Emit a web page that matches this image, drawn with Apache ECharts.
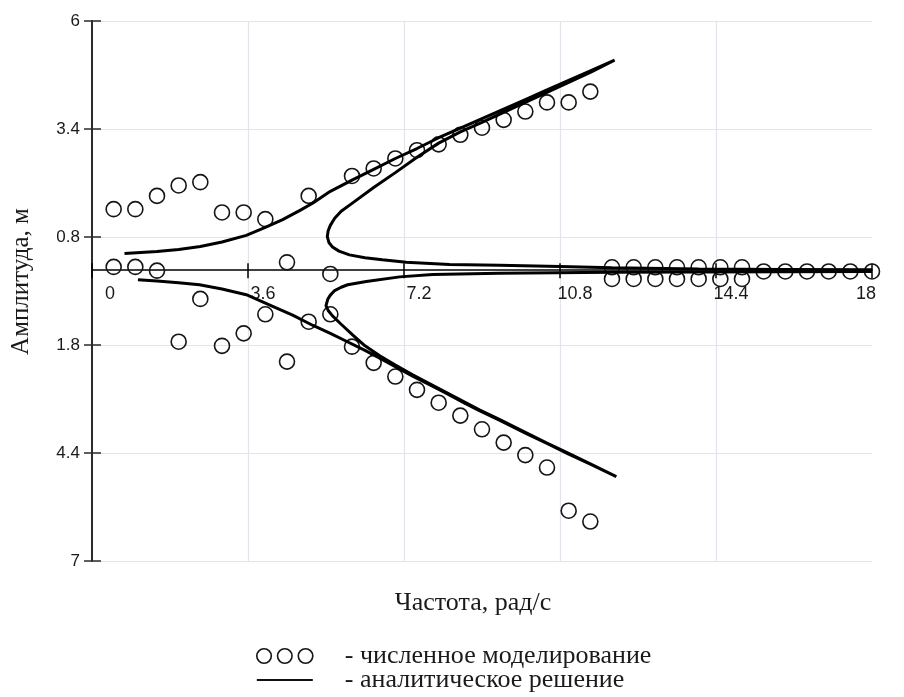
<!DOCTYPE html>
<html><head><meta charset="utf-8">
<script src="https://cdn.jsdelivr.net/npm/echarts@6/dist/echarts.min.js"></script>
<style>html,body{margin:0;padding:0;background:#fff}#c{width:904px;height:697px}</style>
</head><body><div id="c"></div>
<script>
// ---- tick labels ----
const xTickLabels = ['0', '3.6', '7.2', '10.8', '14.4', '18'];
const yTickLabels = ['7', '4.4', '1.8', '0.8', '3.4', '6'];   // bottom -> top (lower half shown as magnitude)

// ---- numerical simulation (circles): two amplitudes per frequency ----
const simFreq = [0.5, 1, 1.5, 2, 2.5, 3, 3.5, 4, 4.5, 5, 5.5, 6, 6.5, 7, 7.5, 8, 8.5, 9, 9.5, 10, 10.5, 11, 11.5,
                 12, 12.5, 13, 13.5, 14, 14.5, 15, 15.5, 16, 16.5, 17, 17.5, 18];
const simAmpA = [1.47, 1.47, 1.79, 2.04, 2.12, 1.39, 1.39, 1.23, 0.19, 1.79, -0.09, 2.27, 2.45, 2.69, 2.89, 3.03, 3.26, 3.43, 3.62, 3.82, 4.04, 4.04, 4.30,
                 0.07, 0.07, 0.07, 0.07, 0.07, 0.07, 0.07, -0.03, -0.03, -0.03, -0.03, -0.03, -0.03];
const simAmpB = [0.08, 0.08, -0.01, -1.72, -0.69, -1.82, -1.52, -1.06, -2.20, -1.24, -1.06, -1.84, -2.23, -2.56, -2.88, -3.19, -3.50, -3.83, -4.15, -4.45, -4.75, -5.79, -6.05,
                 -0.21, -0.21, -0.21, -0.21, -0.21, -0.21, -0.21, null, null, null, null, null, null];

// ---- analytical solution: upper response curve ----
const anaUpperFreq = [0.75, 1.5, 2.0, 2.5, 3.0, 3.56, 4.0, 4.4, 4.8, 5.1, 5.5, 6.0, 6.5, 7.0, 7.5, 8.0, 8.5, 9.0, 9.5, 10.0, 10.5, 11.0, 11.5, 12.06,
                      11.5, 11.0, 10.5, 10.0, 9.5, 9.0, 8.5, 8.0, 7.5, 7.0, 6.5, 6.0, 5.75, 5.6, 5.5, 5.45, 5.43, 5.47, 5.55, 5.7, 5.94, 6.3, 6.7, 7.25, 8.25, 9.4, 10.8, 12, 14, 16, 18];
const anaUpperAmp  = [0.40, 0.45, 0.50, 0.57, 0.68, 0.84, 1.03, 1.22, 1.44, 1.62, 1.90, 2.17, 2.43, 2.69, 2.93, 3.19, 3.42, 3.65, 3.88, 4.11, 4.34, 4.57, 4.80, 5.06,
                      4.76, 4.52, 4.28, 4.04, 3.80, 3.56, 3.33, 3.06, 2.72, 2.35, 1.99, 1.61, 1.42, 1.25, 1.08, 0.95, 0.81, 0.66, 0.56, 0.46, 0.37, 0.30, 0.25, 0.19, 0.14, 0.12, 0.09, 0.06, 0.03, 0.02, 0.01];

// ---- analytical solution: lower response curve ----
const anaLowerFreq = [1.06, 1.5, 2.0, 2.48, 3.0, 3.56, 4.17, 4.63, 5.1, 5.5, 5.87, 6.3, 6.64, 7.0, 7.4, 7.8, 8.17, 8.6, 8.94, 9.4, 10.0, 10.56, 11.0, 11.5, 12.1,
                      11.5, 11.0, 10.5, 10.0, 9.4, 8.94, 8.17, 7.4, 7.0, 6.64, 6.3, 6.02, 5.75, 5.55, 5.45, 5.40, 5.44, 5.5, 5.6, 5.75, 5.9, 6.33, 7.1, 7.86, 9.4, 12, 14, 18];
const anaLowerAmp  = [-0.23, -0.26, -0.30, -0.35, -0.45, -0.59, -0.87, -1.08, -1.33, -1.52, -1.71, -1.93, -2.12, -2.32, -2.55, -2.76, -2.96, -3.20, -3.38, -3.61, -3.92, -4.20, -4.43, -4.67, -4.97,
                      -4.66, -4.41, -4.16, -3.90, -3.59, -3.36, -2.94, -2.52, -2.28, -2.06, -1.82, -1.56, -1.30, -1.10, -0.97, -0.85, -0.70, -0.60, -0.49, -0.41, -0.35, -0.27, -0.16, -0.10, -0.07, -0.05, -0.04, -0.03];

const simName = 'численное моделирование';
const anaName = 'аналитическое решение';

const simPoints = [];
simFreq.forEach((f, i) => {
  if (simAmpA[i] != null) simPoints.push([f, simAmpA[i]]);
  if (simAmpB[i] != null) simPoints.push([f, simAmpB[i]]);
});
const upperLine = anaUpperFreq.map((f, i) => [f, anaUpperAmp[i]]);
const lowerLine = anaLowerFreq.map((f, i) => [f, anaLowerAmp[i]]);

const chart = echarts.init(document.getElementById('c'), null, { renderer: 'canvas' });
const serif = '"Liberation Serif", "Times New Roman", serif';
const sans = '"Liberation Sans", Arial, sans-serif';
const textColor = '#1a1a1a';
const gridColor = '#e3e3eb';

// grid geometry -> offset that moves the bottom axis up onto the zero line
const gridTop = 21, gridHeight = 540, yMin = -7, yMax = 6;
const zeroOffset = -(gridHeight * (0 - yMin) / (yMax - yMin));

function xLabel(v) {
  const i = Math.round(v / 3.6);
  const key = i === 0 ? 'first' : (i === xTickLabels.length - 1 ? 'last' : 'mid');
  return '{' + key + '|' + xTickLabels[i] + '}';
}
const xRichBase = { fontFamily: sans, fontSize: 18, color: textColor };

chart.setOption({
  backgroundColor: '#ffffff',
  animation: false,
  grid: { left: 92, right: 32, top: gridTop, height: gridHeight, containLabel: false },
  legend: {
    orient: 'vertical', left: 256, top: 643, padding: 0,
    itemWidth: 56, itemHeight: 16, itemGap: -2,
    selectedMode: false,
    symbolKeepAspect: true,
    formatter: n => '- ' + n,
    textStyle: { fontFamily: serif, fontSize: 26, color: textColor, lineHeight: 22, padding: [0, 0, 0, 27] },
    data: [
      { name: simName,
        icon: 'path://M1,8a7,7 0 1,0 14,0a7,7 0 1,0 -14,0Z M21,8a7,7 0 1,0 14,0a7,7 0 1,0 -14,0Z M41,8a7,7 0 1,0 14,0a7,7 0 1,0 -14,0Z',
        itemStyle: { color: 'rgba(0,0,0,0)', borderColor: '#151515', borderWidth: 1.6 } },
      { name: anaName,
        icon: 'path://M0,0L56,0L56,2L0,2Z',
        itemStyle: { color: '#111', borderWidth: 0 } }
    ]
  },
  xAxis: [
    { // main axis drawn on the zero line
      type: 'value', min: 0, max: 18, interval: 3.6, position: 'bottom', offset: zeroOffset,
      axisLine: { show: true, onZero: false, lineStyle: { color: '#000', width: 1.5 } },
      axisTick: { show: true, inside: true, length: 7, lineStyle: { color: '#000', width: 1.5 } },
      axisLabel: { show: true, margin: 15, showMinLabel: true, showMaxLabel: true, formatter: xLabel,
        rich: { first: Object.assign({ padding: [0, 0, 0, 36] }, xRichBase),
                mid: Object.assign({ padding: [0, 0, 0, 30] }, xRichBase),
                last: Object.assign({ padding: [0, 12, 0, 0] }, xRichBase) } },
      splitLine: { show: true, showMaxLine: false, lineStyle: { color: gridColor, width: 1.2 } }
    },
    { // tick marks crossing the zero line (lower half)
      type: 'value', min: 0, max: 18, interval: 3.6, position: 'bottom', offset: zeroOffset,
      axisLine: { show: false, onZero: false },
      axisTick: { show: true, inside: false, length: 8, lineStyle: { color: '#000', width: 1.5 } },
      axisLabel: { show: false }, splitLine: { show: false }
    },
    { // axis title at the bottom
      type: 'value', min: 0, max: 18, interval: 3.6, position: 'bottom',
      axisLine: { show: false, onZero: false }, axisTick: { show: false },
      axisLabel: { show: false }, splitLine: { show: false },
      name: 'Частота, рад/с', nameLocation: 'middle', nameGap: 29,
      nameTextStyle: { fontFamily: serif, fontSize: 26, color: textColor, padding: [0, 18, 0, 0] }
    }
  ],
  yAxis: [
    {
      type: 'value', min: yMin, max: yMax, interval: 2.6, position: 'left',
      axisLine: { show: true, onZero: false, lineStyle: { color: '#2b2b2b', width: 2 } },
      axisTick: { show: true, inside: false, length: 8, lineStyle: { color: '#2b2b2b', width: 1.5 } },
      axisLabel: { show: true, margin: 12, fontFamily: sans, fontSize: 17, color: textColor,
        formatter: v => yTickLabels[Math.round((v - yMin) / 2.6)] },
      splitLine: { show: true, lineStyle: { color: gridColor, width: 1.2 } },
      name: 'Амплитуда, м', nameLocation: 'middle', nameGap: 58,
      nameTextStyle: { fontFamily: serif, fontSize: 25, color: textColor, padding: [0, 0, 0, 19] }
    },
    {
      type: 'value', min: yMin, max: yMax, interval: 2.6, position: 'left',
      axisLine: { show: false, onZero: false },
      axisTick: { show: true, inside: true, length: 9, lineStyle: { color: '#2b2b2b', width: 1.5 } },
      axisLabel: { show: false }, splitLine: { show: false }
    }
  ],
  series: [
    { name: simName, type: 'scatter', xAxisIndex: 0, yAxisIndex: 0, data: simPoints,
      symbol: 'circle', symbolSize: 15, z: 3,
      itemStyle: { color: 'rgba(0,0,0,0)', borderColor: '#151515', borderWidth: 1.6, opacity: 1 } },
    { name: anaName, type: 'line', xAxisIndex: 0, yAxisIndex: 0, data: upperLine,
      symbol: 'none', smooth: false, z: 4, lineStyle: { color: '#000', width: 3 } },
    { name: anaName, type: 'line', xAxisIndex: 0, yAxisIndex: 0, data: lowerLine,
      symbol: 'none', smooth: false, z: 4, lineStyle: { color: '#000', width: 3 } }
  ]
});
</script>
</body></html>
